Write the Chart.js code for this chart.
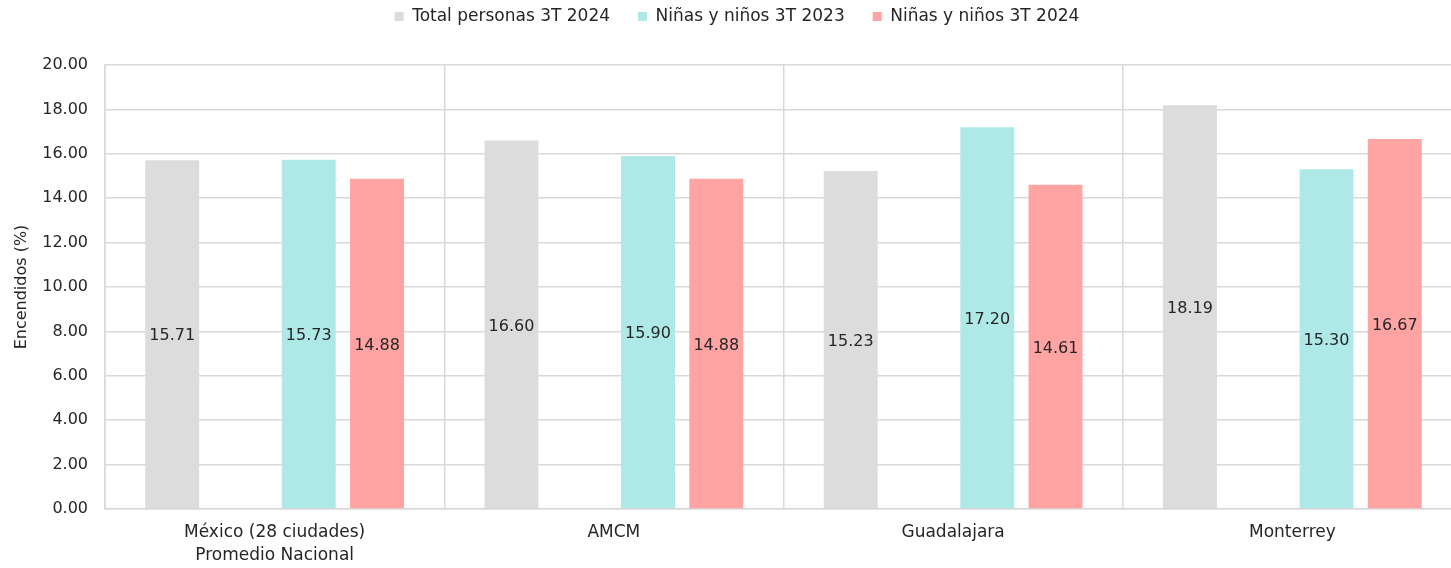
<!DOCTYPE html>
<html>
<head>
<meta charset="utf-8">
<script src="https://cdn.jsdelivr.net/npm/chart.js@4"></script>
<style>
  html, body { margin: 0; padding: 0; background: #fff; overflow: hidden; }
  #wrap { width: 1462px; height: 568px; }
</style>
</head>
<body>
<div id="wrap"><canvas id="grafico" width="1462" height="568"></canvas></div>
<script>
const categorias = [["México (28 ciudades)", "Promedio Nacional"], "AMCM", "Guadalajara", "Monterrey"];
const totalPersonas2024 = [15.71, 16.60, 15.23, 18.19];
const ninos2023 = [15.73, 15.90, 17.20, 15.30];
const ninos2024 = [14.88, 14.88, 14.61, 16.67];
const huecoVacio = [null, null, null, null];

const fuente = "'DejaVu Sans', sans-serif";
const colorTexto = "#262626";

// etiquetas de valor al centro de cada barra
const etiquetasPlugin = {
    id: "etiquetas",
    afterDatasetsDraw(chart) {
        const ctx = chart.ctx;
        ctx.save();
        ctx.font = "16px " + fuente;
        ctx.fillStyle = colorTexto;
        ctx.textAlign = "center";
        ctx.textBaseline = "middle";
        chart.data.datasets.forEach((ds, i) => {
            if (ds.sinEtiqueta) return;
            const meta = chart.getDatasetMeta(i);
            meta.data.forEach((bar, j) => {
                const v = ds.data[j];
                if (v == null) return;
                ctx.fillText(v.toFixed(2), bar.x, (bar.y + bar.base) / 2 + 2);
            });
        });
        ctx.restore();
    }
};

// alto fijo de la leyenda y leyenda un poco mas arriba
const leyendaPlugin = {
    id: "altoLeyenda",
    beforeInit(chart) {
        const fitOrig = chart.legend.fit;
        chart.legend.fit = function () {
            fitOrig.call(this);
            this.height = 65;
        };
    },
    afterLayout(chart) {
        chart.legend.top -= 20;
        chart.legend.left += 6;
        chart.legend.right += 6;
    }
};

const ctx = document.getElementById('grafico').getContext('2d');

new Chart(ctx, {
    type: 'bar',
    data: {
        labels: categorias,
        datasets: [
            { label: "Total personas 3T 2024", data: totalPersonas2024, backgroundColor: "#dcdcdc" },
            { label: "", data: huecoVacio, backgroundColor: "rgba(0,0,0,0)", sinEtiqueta: true },
            { label: "Niñas y niños 3T 2023", data: ninos2023, backgroundColor: "#aee9e7" },
            { label: "Niñas y niños 3T 2024", data: ninos2024, backgroundColor: "#ffa3a3" }
        ]
    },
    options: {
        responsive: false,
        animation: false,
        categoryPercentage: 0.805,
        barPercentage: 0.79,
        plugins: {
            tooltip: { enabled: false },
            legend: {
                position: 'top',
                labels: {
                    color: colorTexto,
                    font: { size: 17, family: fuente },
                    boxWidth: 9,
                    boxHeight: 9,
                    padding: 28,
                    filter: (item) => item.text !== ""
                }
            }
        },
        scales: {
            x: {
                grid: { offset: true, color: "#d9d9d9", lineWidth: 1.5, drawTicks: false },
                border: { color: "#d9d9d9", width: 1.5 },
                ticks: { color: colorTexto, font: { size: 17, family: fuente, lineHeight: 1.3 }, padding: 13 },
                afterFit(scale) { scale.height = 59; }
            },
            y: {
                min: 0,
                max: 20,
                grid: { color: "#d9d9d9", lineWidth: 1.5, drawTicks: false },
                border: { color: "#d9d9d9", width: 1.5 },
                ticks: {
                    stepSize: 2,
                    color: colorTexto,
                    font: { size: 16, family: fuente },
                    padding: 17,
                    callback: (v) => v.toFixed(2)
                },
                title: {
                    display: true,
                    text: "Encendidos (%)",
                    color: colorTexto,
                    font: { size: 16, family: fuente },
                    padding: { top: 12, bottom: 0 }
                },
                afterFit(scale) { scale.width = 105; }
            }
        }
    },
    plugins: [etiquetasPlugin, leyendaPlugin]
});
</script>
</body>
</html>
